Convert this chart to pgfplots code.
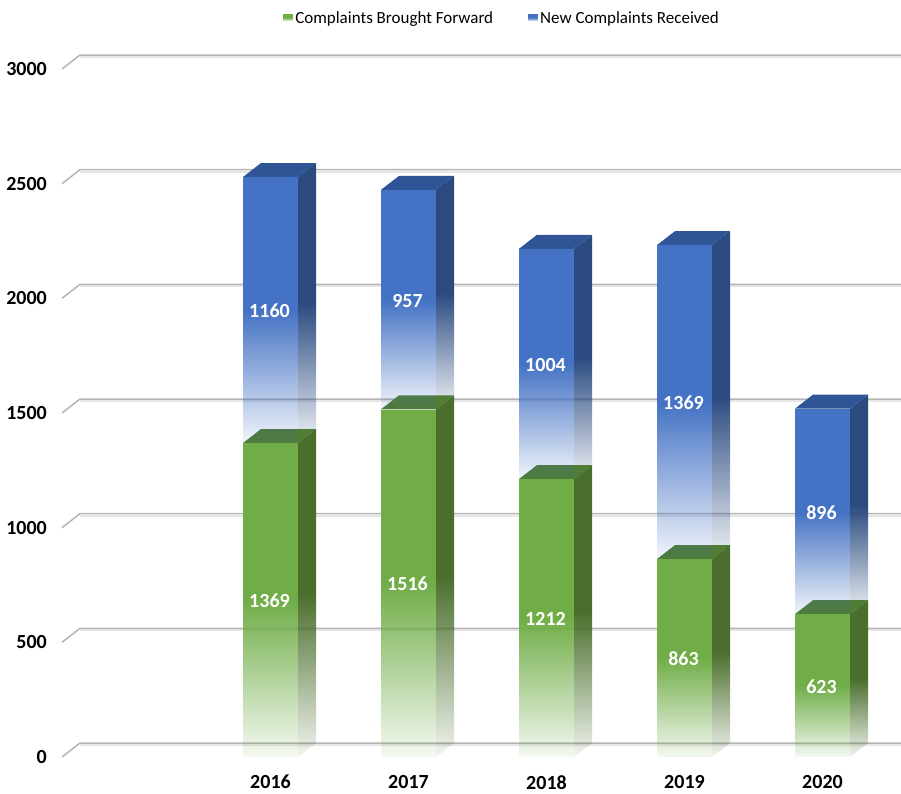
\documentclass[border=0pt]{standalone}
\usepackage{fontspec}
\setmainfont{Carlito}
\usepackage{pgfplots}
\usepackage{pgfplotstable}
\pgfplotsset{compat=1.18}
\usetikzlibrary{fadings}

\definecolor{gfront}{HTML}{70AD47}
\definecolor{gside}{HTML}{4A6E2C}
\definecolor{gtop}{HTML}{507C33}
\definecolor{bfront}{HTML}{4472C4}
\definecolor{bside}{HTML}{2A4A80}
\definecolor{btop}{HTML}{2F5597}
\definecolor{rule}{HTML}{B4B4B4}
\definecolor{ruleshadow}{HTML}{E6E6E6}

% middle colour has to come last
\tikzfading[name=barfade, bottom color=transparent!93, top color=transparent!0, middle color=transparent!0]

\pgfplotstableread{
x g b
0 1369 1160
1 1516 957
2 1212 1004
3 863 1369
4 623 896
}\complaints

\pgfplotsset{
  base/.style={
    at={(0,0)}, anchor=south west,
    scale only axis, width=839pt, height=770pt,
    xmin=-1.5109, xmax=4.5688, ymin=-56.69, ymax=3300.9,
    clip=false,
  },
  frontbar/.style={draw=none, fill=#1, path fading=barfade},
}

\newcommand\sideface[4]{%
  \pgfmathsetmacro\xa{#1+0.1993}\pgfmathsetmacro\xb{#1+0.3297}%
  \pgfmathsetmacro\yb{#2+61}\pgfmathsetmacro\yc{#3+61}%
  \addplot[draw=none, fill=#4, path fading=barfade] coordinates {(\xa,#2) (\xb,\yb) (\xb,\yc) (\xa,#3) (\xa,#2)};
}
\newcommand\topface[3]{%
  \pgfmathsetmacro\xa{#1-0.1993}\pgfmathsetmacro\xb{#1+0.1993}%
  \pgfmathsetmacro\xc{#1+0.3297}\pgfmathsetmacro\xd{#1-0.0689}%
  \pgfmathsetmacro\yb{#2+61}%
  \addplot[draw=none, fill=#3] coordinates {(\xa,#2) (\xb,#2) (\xc,\yb) (\xd,\yb) (\xa,#2)};
}
\newcommand\gridrule[1]{%
  \pgfmathsetmacro\yb{#1+61}\pgfmathsetmacro\ys{#1+61-8}\pgfmathsetmacro\yf{#1}%
  \addplot[ruleshadow, line width=2pt] coordinates {(-1.3804,\ys) (4.5688,\ys)};
  \addplot[rule, line width=1.5pt] coordinates {(-1.5109,\yf) (-1.3804,\yb) (4.5688,\yb)};
}
% one axis per year, so the fading fits each bar on its own
\newcommand\yearbars[3]{%
  \begin{axis}[base, hide axis, ybar stacked, bar width=55pt]
  \addplot[frontbar=gfront] coordinates {(#1,#2)};
  \addplot[frontbar=bfront] coordinates {(#1,#3)};
  \end{axis}
}

\begin{document}
\begin{tikzpicture}
\path[use as bounding box] (-62pt,-24pt) rectangle (839pt,770pt);

% grid, side and top faces
\begin{axis}[
  base,
  axis line style={draw=none},
  major tick length=0pt,
  tick label style={font=\fontsize{20}{20}\selectfont\bfseries, inner sep=0pt},
  /pgf/number format/assume math mode=true,
  /pgf/number format/set thousands separator={},
  xtick={0,1,2,3,4},
  xticklabels={2016,2017,2018,2019,2020},
  ytick={0,500,1000,1500,2000,2500,3000},
  ytick pos=left, xtick pos=bottom,
  y tick label style={xshift=-15pt},
  x tick label style={yshift=-5pt},
]
\gridrule{0}
\gridrule{500}
\gridrule{1000}
\gridrule{1500}
\gridrule{2000}
\gridrule{2500}
\gridrule{3000}

\sideface{0}{1369}{2529}{bside}
\sideface{1}{1516}{2473}{bside}
\sideface{2}{1212}{2216}{bside}
\sideface{3}{863}{2232}{bside}
\sideface{4}{623}{1519}{bside}
\sideface{0}{0}{1369}{gside}
\sideface{1}{0}{1516}{gside}
\sideface{2}{0}{1212}{gside}
\sideface{3}{0}{863}{gside}
\sideface{4}{0}{623}{gside}
\topface{0}{1369}{gtop}
\topface{1}{1516}{gtop}
\topface{2}{1212}{gtop}
\topface{3}{863}{gtop}
\topface{4}{623}{gtop}
\topface{0}{2529}{btop}
\topface{1}{2473}{btop}
\topface{2}{2216}{btop}
\topface{3}{2232}{btop}
\topface{4}{1519}{btop}
\end{axis}

% front faces
\yearbars{0}{1369}{1160}
\yearbars{1}{1516}{957}
\yearbars{2}{1212}{1004}
\yearbars{3}{863}{1369}
\yearbars{4}{623}{896}

% legend and value labels
\begin{axis}[
  base, hide axis,
  /pgf/number format/assume math mode=true,
  /pgf/number format/set thousands separator={},
  nodes near coords,
  every node near coord/.style={anchor=center, text=white, inner sep=0pt, yshift=-1pt, xshift=-1pt,
    font=\fontsize{20}{20}\selectfont\bfseries},
  legend columns=2,
  legend style={draw=none, fill=none, at={(0.5245,0.9765)}, anchor=center,
    font=\fontsize{17}{17}\selectfont,
    /tikz/every even column/.append style={column sep=33pt}},
  legend cell align=left,
  legend image code/.code={\fill[#1] (0pt,-3pt) rectangle (10pt,4pt);},
]
\addlegendimage{frontbar=gfront}
\addlegendentry{Complaints Brought Forward}
\addlegendimage{frontbar=bfront}
\addlegendentry{New Complaints Received}
\addplot[draw=none, mark=none, point meta=\thisrow{g}, forget plot] table[x=x, y expr=\thisrow{g}/2] {\complaints};
\addplot[draw=none, mark=none, point meta=\thisrow{b}, forget plot] table[x=x, y expr=\thisrow{g}+\thisrow{b}/2] {\complaints};
\end{axis}
\end{tikzpicture}
\end{document}
